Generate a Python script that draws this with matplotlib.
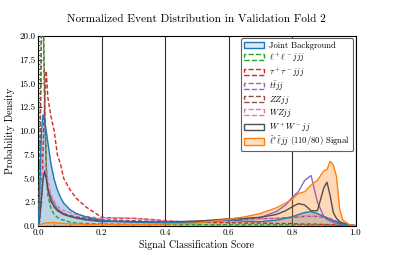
import matplotlib
matplotlib.use("Agg")
import matplotlib.pyplot as plt
from matplotlib.patches import Patch
from matplotlib.ticker import AutoMinorLocator

plt.rcParams['font.family'] = ['cmr10', 'DejaVu Serif']
plt.rcParams['mathtext.fontset'] = 'cm'
plt.rcParams['axes.formatter.use_mathtext'] = True
plt.rcParams['axes.unicode_minus'] = False

xs = [0.0, 0.005, 0.01, 0.015, 0.02, 0.025, 0.03, 0.04, 0.05, 0.06, 0.07, 0.08, 0.1, 0.12, 0.15,
      0.2, 0.25, 0.3, 0.35, 0.4, 0.45, 0.5, 0.55, 0.6, 0.65, 0.7, 0.75, 0.78, 0.8, 0.82, 0.84,
      0.86, 0.88, 0.9, 0.91, 0.92, 0.93, 0.94, 0.95, 0.96, 0.98, 1.0]

joint_bg = [0, 4, 10, 11.7, 11, 10, 8.8, 6.5, 4.9, 3.8, 3.0, 2.4, 1.7, 1.3, 0.95,
            0.6, 0.45, 0.4, 0.35, 0.35, 0.35, 0.4, 0.5, 0.6, 0.5, 0.45, 0.6, 0.8, 0.95, 1.2, 1.4,
            1.5, 1.3, 1.0, 0.85, 0.7, 0.55, 0.45, 0.3, 0.2, 0.08, 0.02]
ll_jjj = [0, 8, 22, 24, 14, 6, 3.2, 1.8, 1.2, 0.9, 0.7, 0.6, 0.4, 0.3, 0.25,
          0.2, 0.18, 0.16, 0.15, 0.15, 0.14, 0.14, 0.13, 0.13, 0.12, 0.12, 0.12, 0.12, 0.11, 0.11, 0.1,
          0.1, 0.1, 0.09, 0.09, 0.08, 0.08, 0.07, 0.06, 0.05, 0.04, 0.03]
tautau_jjj = [0, 1, 3, 8, 13, 16.3, 13.5, 11.5, 10.0, 7.5, 6.5, 5.0, 3.8, 2.9, 2.0,
              0.9, 0.8, 0.8, 0.7, 0.55, 0.45, 0.4, 0.35, 0.35, 0.3, 0.3, 0.25, 0.25, 0.25, 0.2, 0.2,
              0.2, 0.18, 0.15, 0.14, 0.13, 0.12, 0.1, 0.09, 0.08, 0.06, 0.05]
ttjj = [0, 1, 3, 5, 5.5, 5, 4, 3, 2.3, 1.8, 1.5, 1.3, 1.0, 0.8, 0.6,
        0.45, 0.45, 0.45, 0.4, 0.35, 0.35, 0.4, 0.5, 0.6, 0.7, 0.9, 1.5, 2.2, 3.0, 3.6, 4.8,
        5.3, 2.5, 1.0, 0.7, 0.5, 0.35, 0.25, 0.2, 0.15, 0.08, 0.03]
zzjj = [0, 6, 20, 23, 12, 6.5, 4, 2.6, 2.0, 1.7, 1.5, 1.3, 1.1, 0.95, 0.8,
        0.65, 0.6, 0.55, 0.5, 0.45, 0.45, 0.5, 0.6, 0.7, 0.7, 0.75, 0.8, 0.85, 0.9, 0.95, 1.0,
        1.0, 1.0, 0.9, 0.8, 0.7, 0.55, 0.4, 0.3, 0.2, 0.08, 0.03]
wzjj = [0, 1.5, 4, 6, 6.5, 6, 4.8, 3.3, 2.6, 2.1, 1.8, 1.6, 1.4, 1.2, 1.0,
        0.8, 0.85, 0.8, 0.65, 0.5, 0.45, 0.5, 0.6, 0.75, 0.75, 0.75, 0.8, 0.85, 0.95, 1.0, 1.05,
        1.0, 1.0, 0.95, 0.9, 0.8, 0.65, 0.5, 0.35, 0.25, 0.1, 0.03]
wwjj = [0, 1, 3, 5, 5.8, 5, 3.8, 2.6, 2.0, 1.6, 1.4, 1.2, 1.0, 0.85, 0.7,
        0.5, 0.5, 0.45, 0.4, 0.4, 0.45, 0.5, 0.6, 0.75, 0.8, 0.9, 1.2, 1.6, 2.0, 2.35, 2.2,
        1.6, 1.6, 4.0, 4.6, 3.2, 1.4, 0.8, 0.45, 0.3, 0.1, 0.03]
signal = [0, 0.1, 0.2, 0.25, 0.3, 0.3, 0.3, 0.35, 0.35, 0.3, 0.3, 0.25, 0.2, 0.2, 0.15,
          0.15, 0.15, 0.15, 0.15, 0.2, 0.25, 0.3, 0.5, 0.7, 0.95, 1.3, 1.9, 2.4, 2.8, 3.4, 3.6,
          4.3, 4.8, 5.8, 5.9, 6.8, 6.4, 5.2, 1.8, 0.6, 0.15, 0.0]

labels = ['Joint Background', r'$\ell^+\ell^-jjj$', r'$\tau^+\tau^-jjj$', r'$t\bar{t}jj$',
          r'$ZZjj$', r'$WZjj$', r'$W^+W^-jj$', r'$\tilde{\ell}^{*}\tilde{\ell}jj$ (110/80) Signal']

fig = plt.figure(figsize=(3.95, 2.63), dpi=100)
ax = fig.add_axes([0.097, 0.141, 0.803, 0.723])

c_blue = '#1f77b4'
c_orange = '#ff7f0e'

ax.fill_between(xs, joint_bg, color=c_blue, alpha=0.3, lw=0, zorder=1)
ax.fill_between(xs, signal, color=c_orange, alpha=0.3, lw=0, zorder=1)

series = [
    (ll_jjj, '#2ca02c', '--'),
    (tautau_jjj, '#d62728', '--'),
    (ttjj, '#9467bd', '-'),
    (zzjj, '#8c564b', '--'),
    (wzjj, '#e377c2', '--'),
    (wwjj, '#505050', '-'),
]
for vals, col, ls in series:
    ax.plot(xs, vals, color=col, lw=1.0, ls=ls, dashes=(3, 1.5) if ls == '--' else (None, None), zorder=3)
ax.plot(xs, joint_bg, color=c_blue, lw=1.0, zorder=3)
ax.plot(xs, signal, color=c_orange, lw=1.0, zorder=3)

ax.set_xlim(0, 1)
ax.set_ylim(0, 20)
ax.set_xticks([0.0, 0.2, 0.4, 0.6, 0.8, 1.0])
ax.set_yticks([0, 2.5, 5, 7.5, 10, 12.5, 15, 17.5, 20])
ax.set_xticklabels(['0.0', '0.2', '0.4', '0.6', '0.8', '1.0'])
ax.set_yticklabels(['0.0', '2.5', '5.0', '7.5', '10.0', '12.5', '15.0', '17.5', '20.0'])
ax.xaxis.set_minor_locator(AutoMinorLocator(4))
ax.yaxis.set_minor_locator(AutoMinorLocator(5))
ax.tick_params(which='both', direction='in', labelsize=6.5, pad=2)
ax.tick_params(which='major', length=3, width=0.6)
ax.tick_params(which='minor', length=1.5, width=0.5)
ax.xaxis.grid(True, color='#303030', lw=0.8)
ax.set_axisbelow(True)
for s in ax.spines.values():
    s.set_linewidth(0.8)

ax.set_xlabel('Signal Classification Score', fontsize=7.2, labelpad=2)
ax.set_ylabel('Probability Density', fontsize=7.2, labelpad=3)
ax.set_title('Normalized Event Distribution in Validation Fold 2', fontsize=8.2, pad=10)

handles = [
    Patch(facecolor=(0.12, 0.47, 0.71, 0.15), edgecolor=c_blue, lw=1.0),
    Patch(facecolor='none', edgecolor='#2ca02c', lw=1.0, ls='--'),
    Patch(facecolor='none', edgecolor='#d62728', lw=1.0, ls='--'),
    Patch(facecolor='none', edgecolor='#9467bd', lw=1.0, ls='--'),
    Patch(facecolor='none', edgecolor='#8c564b', lw=1.0, ls='--'),
    Patch(facecolor='none', edgecolor='#e377c2', lw=1.0, ls='--'),
    Patch(facecolor='none', edgecolor='#505050', lw=1.0),
    Patch(facecolor=(1.0, 0.5, 0.05, 0.25), edgecolor=c_orange, lw=1.0),
]
leg = ax.legend(handles, labels, loc='upper right', fontsize=6.2, frameon=True, fancybox=True,
                framealpha=1.0, edgecolor='#606060', borderpad=0.35, labelspacing=0.12,
                handlelength=2.3, handleheight=0.75, handletextpad=0.6, borderaxespad=0.3)
leg.get_frame().set_linewidth(0.8)

fig.savefig('out.png', dpi=100)
